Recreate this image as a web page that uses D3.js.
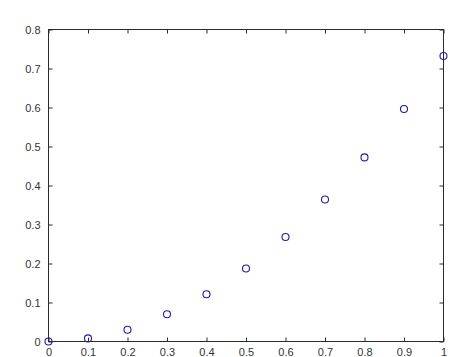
<!DOCTYPE html>
<html><head><meta charset="utf-8">
<script src="https://cdn.jsdelivr.net/npm/d3@7"></script>
<style>html,body{margin:0;padding:0;background:#fff;}svg{display:block;}</style>
</head><body>
<svg id="c" width="474" height="357"></svg>
<script>
const xValues = [0, 0.1, 0.2, 0.3, 0.4, 0.5, 0.6, 0.7, 0.8, 0.9, 1.0];
const yValues = [0, 0.008, 0.030, 0.070, 0.121, 0.187, 0.268, 0.364, 0.472, 0.596, 0.732];
const xTicks = [0, 0.1, 0.2, 0.3, 0.4, 0.5, 0.6, 0.7, 0.8, 0.9, 1];
const yTicks = [0, 0.1, 0.2, 0.3, 0.4, 0.5, 0.6, 0.7, 0.8];

const L = 48.5, R = 443.5, T = 29.5, B = 341.5;
const svg = d3.select("#c");
const x = d3.scaleLinear().domain([0, 1]).range([L, R]);
const y = d3.scaleLinear().domain([0, 0.8]).range([B, T]);
const axisColor = "#2a2a2a";
const fmt = d => d === 0 ? "0" : d === 1 ? "1" : d3.format(".1f")(d);

function style(g) {
  g.select(".domain").remove();
  g.selectAll(".tick line").attr("stroke", axisColor);
  g.selectAll(".tick text").attr("fill", "#333").attr("font-family", "Liberation Sans, Arial, sans-serif").attr("font-size", "11px");
}
// bottom
svg.append("g").attr("transform", `translate(0,${B})`)
  .call(d3.axisBottom(x).tickValues(xTicks).tickFormat(fmt).tickSizeInner(-4).tickSizeOuter(0).tickPadding(7))
  .call(style);
// top
svg.append("g").attr("transform", `translate(0,${T})`)
  .call(d3.axisTop(x).tickValues(xTicks).tickFormat("").tickSizeInner(-4).tickSizeOuter(0))
  .call(style);
// left
svg.append("g").attr("transform", `translate(${L},0)`)
  .call(d3.axisLeft(y).tickValues(yTicks).tickFormat(fmt).tickSizeInner(-4).tickSizeOuter(0).tickPadding(8))
  .call(style);
// right
svg.append("g").attr("transform", `translate(${R},0)`)
  .call(d3.axisRight(y).tickValues(yTicks).tickFormat("").tickSizeInner(-4).tickSizeOuter(0))
  .call(style);

// box
svg.append("rect").attr("x", L).attr("y", T).attr("width", R - L).attr("height", B - T)
  .attr("fill", "none").attr("stroke", axisColor).attr("stroke-width", 1);

// points
svg.append("g").selectAll("circle").data(xValues.map((v, i) => [v, yValues[i]]))
  .join("circle")
  .attr("cx", d => x(d[0])).attr("cy", d => y(d[1])).attr("r", 3.5)
  .attr("fill", "none").attr("stroke", "#1c1cb4").attr("stroke-width", 1.1);
</script>
</body></html>
